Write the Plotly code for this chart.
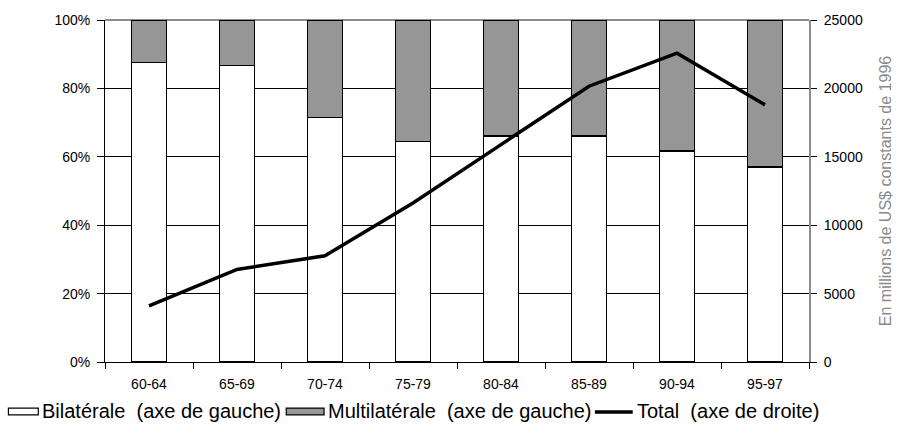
import plotly.graph_objects as go

# Aide publique au développement : répartition bilatérale / multilatérale (%) et total (millions US$ 1996)
periods = ["60-64", "65-69", "70-74", "75-79", "80-84", "85-89", "90-94", "95-97"]
bilateral = [87.6, 86.7, 71.5, 64.5, 66.1, 66.1, 61.7, 57.0]
multilateral = [round(100 - b, 1) for b in bilateral]
total = [4110, 6765, 7770, 11620, 15890, 20160, 22575, 18795]

left_ticks = [0, 20, 40, 60, 80, 100]
left_tick_text = ["0%", "20%", "40%", "60%", "80%", "100%"]
right_ticks = [0, 5000, 10000, 15000, 20000, 25000]
right_tick_text = ["0", "5000", "10000", "15000", "20000", "25000"]

W, H = 904, 434
L, R, T, B = 105, 92, 13, 72
FONT = "Liberation Sans, Arial, sans-serif"

fig = go.Figure()
fig.add_trace(go.Bar(
    x=periods, y=bilateral, name="Bilatérale  (axe de gauche)",
    marker=dict(color="white", line=dict(color="black", width=1.5)),
    width=0.4, yaxis="y",
))
fig.add_trace(go.Bar(
    x=periods, y=multilateral, name="Multilatérale  (axe de gauche)",
    marker=dict(color="#969696", line=dict(color="black", width=1.5)),
    width=0.4, yaxis="y",
))
fig.add_trace(go.Scatter(
    x=periods, y=total, name="Total  (axe de droite)", mode="lines",
    line=dict(color="black", width=3.5), yaxis="y2",
))

fig.update_layout(
    width=W, height=H,
    margin=dict(l=L, r=R, t=T, b=B, pad=0),
    paper_bgcolor="white", plot_bgcolor="white",
    barmode="stack", showlegend=False,
    font=dict(family=FONT, size=14, color="black"),
    xaxis=dict(
        showline=True, linecolor="black", linewidth=1,
        ticks="outside", tickson="boundaries", ticklen=6, tickcolor="black",
        ticklabelstandoff=9, showgrid=False,
    ),
    yaxis=dict(
        range=[0, 100], tickvals=left_ticks, ticktext=left_tick_text,
        showline=True, linecolor="black", linewidth=1,
        ticks="outside", ticklen=7, tickcolor="black", ticklabelstandoff=4,
        showgrid=True, gridcolor="black", gridwidth=1, zeroline=False,
    ),
    yaxis2=dict(
        range=[0, 25000], tickvals=right_ticks, ticktext=right_tick_text,
        overlaying="y", side="right",
        showline=True, linecolor="#8c8c8c", linewidth=2,
        ticks="outside", ticklen=6, tickcolor="black", ticklabelstandoff=4,
        showgrid=False, zeroline=False,
        title=dict(text="En millions de US$ constants de 1996",
                   font=dict(size=16, color="#8a8a8a"), standoff=18),
    ),
)

# top border of the plotting area
fig.add_shape(type="line", xref="paper", yref="paper", x0=0, x1=1, y0=1, y1=1,
              line=dict(color="#8c8c8c", width=2), layer="between")

# legend drawn along the bottom edge
def px_x(px):
    return (px - L) / (W - L - R)

def px_y(py):
    return (H - B - py) / (H - T - B)

legend_items = [
    ("rect", "white", 8, 38, "Bilatérale  (axe de gauche)", 40),
    ("rect", "#969696", 287, 325, "Multilatérale  (axe de gauche)", 327),
    ("line", "black", 597, 635, "Total  (axe de droite)", 637),
]
for kind, color, x0, x1, label, tx in legend_items:
    if kind == "rect":
        fig.add_shape(type="rect", xref="paper", yref="paper",
                      x0=px_x(x0), x1=px_x(x1), y0=px_y(416), y1=px_y(409),
                      fillcolor=color, line=dict(color="black", width=1.2))
    else:
        fig.add_shape(type="line", xref="paper", yref="paper",
                      x0=px_x(x0), x1=px_x(x1), y0=px_y(413), y1=px_y(413),
                      line=dict(color=color, width=3.5))
    fig.add_annotation(xref="paper", yref="paper", x=px_x(tx), y=px_y(412),
                       text=label, showarrow=False, xanchor="left", yanchor="middle",
                       font=dict(size=20, color="black"))

fig.write_html("out.html")
